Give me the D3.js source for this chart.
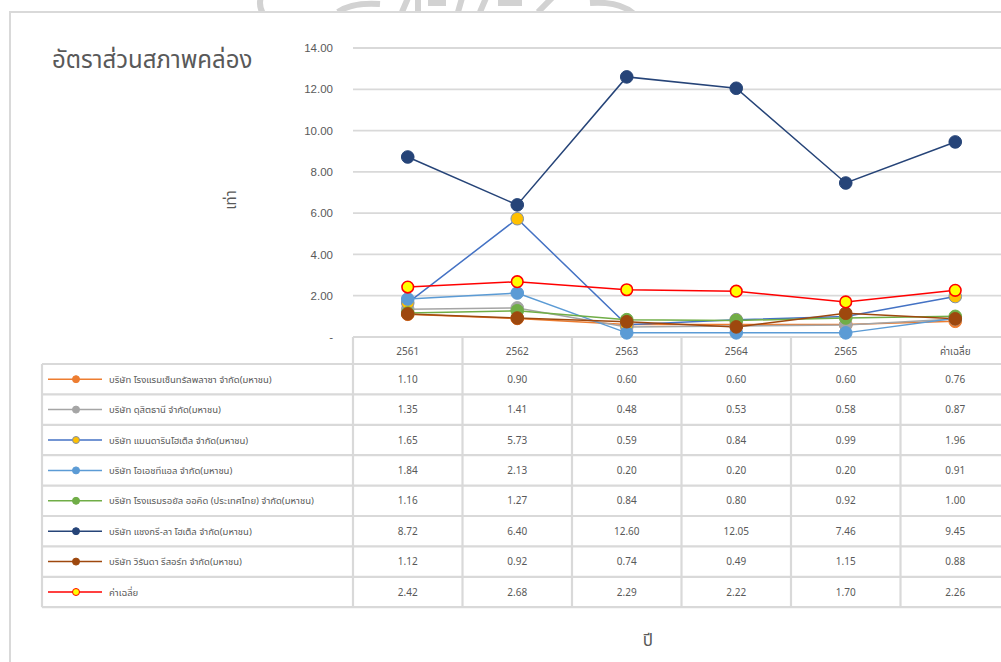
<!DOCTYPE html>
<html>
<head>
<meta charset="utf-8">
<script src="https://cdn.jsdelivr.net/npm/d3@7"></script>
<style>
  html, body { margin: 0; padding: 0; background: #fff; }
  svg { display: block; font-family: "Tahoma", "Leelawadee UI", "Noto Sans Thai", "Noto Sans", "DejaVu Sans", sans-serif; }
</style>
</head>
<body>
<svg id="chart" width="1001" height="662"></svg>
<script>
// ---------- data ----------
const categories = ["2561", "2562", "2563", "2564", "2565", "ค่าเฉลี่ย"];
const seriesNames = [
  "บริษัท โรงแรมเซ็นทรัลพลาซา จำกัด(มหาชน)",
  "บริษัท ดุสิตธานี จำกัด(มหาชน)",
  "บริษัท แมนดารินโฮเต็ล จำกัด(มหาชน)",
  "บริษัท โอเอชทีแอล จำกัด(มหาชน)",
  "บริษัท โรงแรมรอยัล ออคิด (ประเทศไทย) จำกัด(มหาชน)",
  "บริษัท แชงกรี-ลา โฮเต็ล จำกัด(มหาชน)",
  "บริษัท วิรันดา รีสอร์ท จำกัด(มหาชน)",
  "ค่าเฉลี่ย"
];
const centelValues   = [1.10, 0.90, 0.60, 0.60, 0.60, 0.76];
const dusitValues    = [1.35, 1.41, 0.48, 0.53, 0.58, 0.87];
const manrinValues   = [1.65, 5.73, 0.59, 0.84, 0.99, 1.96];
const ohtlValues     = [1.84, 2.13, 0.20, 0.20, 0.20, 0.91];
const royalValues    = [1.16, 1.27, 0.84, 0.80, 0.92, 1.00];
const shangriValues  = [8.72, 6.40, 12.60, 12.05, 7.46, 9.45];
const verandaValues  = [1.12, 0.92, 0.74, 0.49, 1.15, 0.88];
const averageValues  = [2.42, 2.68, 2.29, 2.22, 1.70, 2.26];
const seriesValues = [centelValues, dusitValues, manrinValues, ohtlValues,
                      royalValues, shangriValues, verandaValues, averageValues];
const yTicks = [0, 2, 4, 6, 8, 10, 12, 14];
const yTickLabels = ["-", "2.00", "4.00", "6.00", "8.00", "10.00", "12.00", "14.00"];
const titleText = "อัตราส่วนสภาพคล่อง";
const yTitle = "เท่า";
const xTitle = "ปี";

// ---------- styles ----------
const styles = [
  { line: "#ED7D31", fill: "#ED7D31", stroke: "#ED7D31" },
  { line: "#A5A5A5", fill: "#A5A5A5", stroke: "#A5A5A5" },
  { line: "#4472C4", fill: "#FFC000", stroke: "#7F8FA9" },
  { line: "#5B9BD5", fill: "#5B9BD5", stroke: "#5B9BD5" },
  { line: "#70AD47", fill: "#70AD47", stroke: "#70AD47" },
  { line: "#264478", fill: "#264478", stroke: "#264478" },
  { line: "#9E480E", fill: "#9E480E", stroke: "#9E480E" },
  { line: "#FF0000", fill: "#FFFF00", stroke: "#FF0000" }
];

const svg = d3.select("#chart");
const gridColor = "#d9d9d9";
const textColor = "#595959";

// layout
const plotLeft = 353, colW = 109.5;
const plotRight = plotLeft + colW * categories.length;
const plotTop = 48, plotBottom = 337;
const headerBottom = 364, rowH = 30.4;
const legendLeft = 42;

const x = d3.scaleBand().domain(categories).range([plotLeft, plotRight]);
const y = d3.scaleLinear().domain([0, 14]).range([plotBottom, plotTop]);
const cx = c => x(c) + x.bandwidth() / 2;

// watermark fragments (faded emblem at top, clipped above the border)
svg.append("clipPath").attr("id", "wmclip").append("rect")
  .attr("x", 0).attr("y", 0).attr("width", 1001).attr("height", 11);
const wm = svg.append("g").attr("clip-path", "url(#wmclip)")
  .attr("fill", "none").attr("stroke", "#d2d2d2").attr("stroke-width", 6);
wm.append("path").attr("d", "M262,-6 Q256,8 268,20");
wm.append("path").attr("d", "M338,12 Q352,2 380,4");
wm.append("path").attr("d", "M402,12 L408,-2 M418,12 L418,-2 M428,3 L446,3 M458,12 L462,-2 M480,12 L486,-2 M498,3 L522,3 M538,12 L552,-2");
wm.append("path").attr("d", "M590,3 Q620,1 634,14");

// outer border
svg.append("path")
  .attr("d", `M10,662 L10,12 L1001,12`)
  .attr("fill", "none").attr("stroke", gridColor).attr("stroke-width", 2);

// title
svg.append("text").attr("x", 52).attr("y", 68)
  .attr("font-size", 24).attr("fill", textColor).text(titleText);

// gridlines
svg.append("g").selectAll("line").data(yTicks.filter(d => d > 0)).join("line")
  .attr("x1", plotLeft).attr("x2", plotRight)
  .attr("y1", d => y(d)).attr("y2", d => y(d))
  .attr("stroke", gridColor).attr("stroke-width", 1.8);

// y axis labels
const yAxis = d3.axisLeft(y).tickValues(yTicks).tickSize(0).tickPadding(0)
  .tickFormat((d, i) => yTickLabels[i]);
const yg = svg.append("g").attr("transform", `translate(${333},0)`).call(yAxis);
yg.select(".domain").remove();
yg.selectAll("text").attr("font-size", 11.5).attr("fill", textColor)
  .attr("font-family", "inherit");

// y title
svg.append("text").attr("transform", "translate(236,200) rotate(-90)")
  .attr("text-anchor", "middle").attr("font-size", 15).attr("fill", textColor).text(yTitle);

// x title
svg.append("text").attr("x", 648).attr("y", 646)
  .attr("text-anchor", "middle").attr("font-size", 17).attr("fill", textColor).text(xTitle);

// ---------- data table ----------
const table = svg.append("g");
const tableBottom = headerBottom + rowH * seriesNames.length;
table.append("line").attr("x1", plotLeft).attr("x2", plotRight)
  .attr("y1", plotBottom).attr("y2", plotBottom);
const rowLines = d3.range(seriesNames.length + 1).map(i => headerBottom + i * rowH);
table.selectAll(".rowline").data(rowLines).join("line")
  .attr("x1", legendLeft).attr("x2", plotRight)
  .attr("y1", d => d).attr("y2", d => d);
table.append("line").attr("x1", legendLeft).attr("x2", legendLeft)
  .attr("y1", headerBottom).attr("y2", tableBottom);
table.selectAll(".colline").data(categories.concat(["_end"])).join("line")
  .attr("x1", (d, i) => plotLeft + i * colW).attr("x2", (d, i) => plotLeft + i * colW)
  .attr("y1", plotBottom).attr("y2", tableBottom);
table.selectAll("line").attr("stroke", gridColor).attr("stroke-width", 2.2);

table.selectAll(".hdr").data(categories).join("text")
  .attr("x", d => cx(d)).attr("y", (plotBottom + headerBottom) / 2 + 4)
  .attr("text-anchor", "middle").attr("font-size", 10).attr("fill", textColor)
  .text(d => d);

seriesNames.forEach((name, si) => {
  const ry = headerBottom + si * rowH + rowH / 2;
  const st = styles[si];
  const g = table.append("g");
  g.append("line").attr("x1", 48).attr("x2", 102).attr("y1", ry).attr("y2", ry)
    .attr("stroke", st.line).attr("stroke-width", 1.5);
  g.append("circle").attr("cx", 76).attr("cy", ry).attr("r", 3.5)
    .attr("fill", st.fill).attr("stroke", st.stroke).attr("stroke-width", 1);
  g.append("text").attr("x", 109).attr("y", ry + 3.5)
    .attr("font-size", 9.5).attr("fill", textColor).text(name);
  g.selectAll(".val").data(seriesValues[si]).join("text")
    .attr("x", (d, i) => cx(categories[i])).attr("y", ry + 3.5)
    .attr("text-anchor", "middle").attr("font-size", 10).attr("fill", textColor)
    .text(d => d.toFixed(2));
});

// ---------- lines & markers ----------
const lineGen = d3.line().x((d, i) => cx(categories[i])).y(d => y(d));
const plot = svg.append("g");
seriesValues.forEach((vals, si) => {
  const st = styles[si];
  plot.append("path").datum(vals).attr("d", lineGen)
    .attr("fill", "none").attr("stroke", st.line).attr("stroke-width", 1.5);
});
seriesValues.forEach((vals, si) => {
  const st = styles[si];
  plot.append("g").selectAll("circle").data(vals).join("circle")
    .attr("cx", (d, i) => cx(categories[i])).attr("cy", d => y(d))
    .attr("r", si === 7 ? 5.8 : 6.3)
    .attr("fill", st.fill).attr("stroke", st.stroke).attr("stroke-width", si === 7 ? 1.6 : 1);
});
</script>
</body>
</html>
